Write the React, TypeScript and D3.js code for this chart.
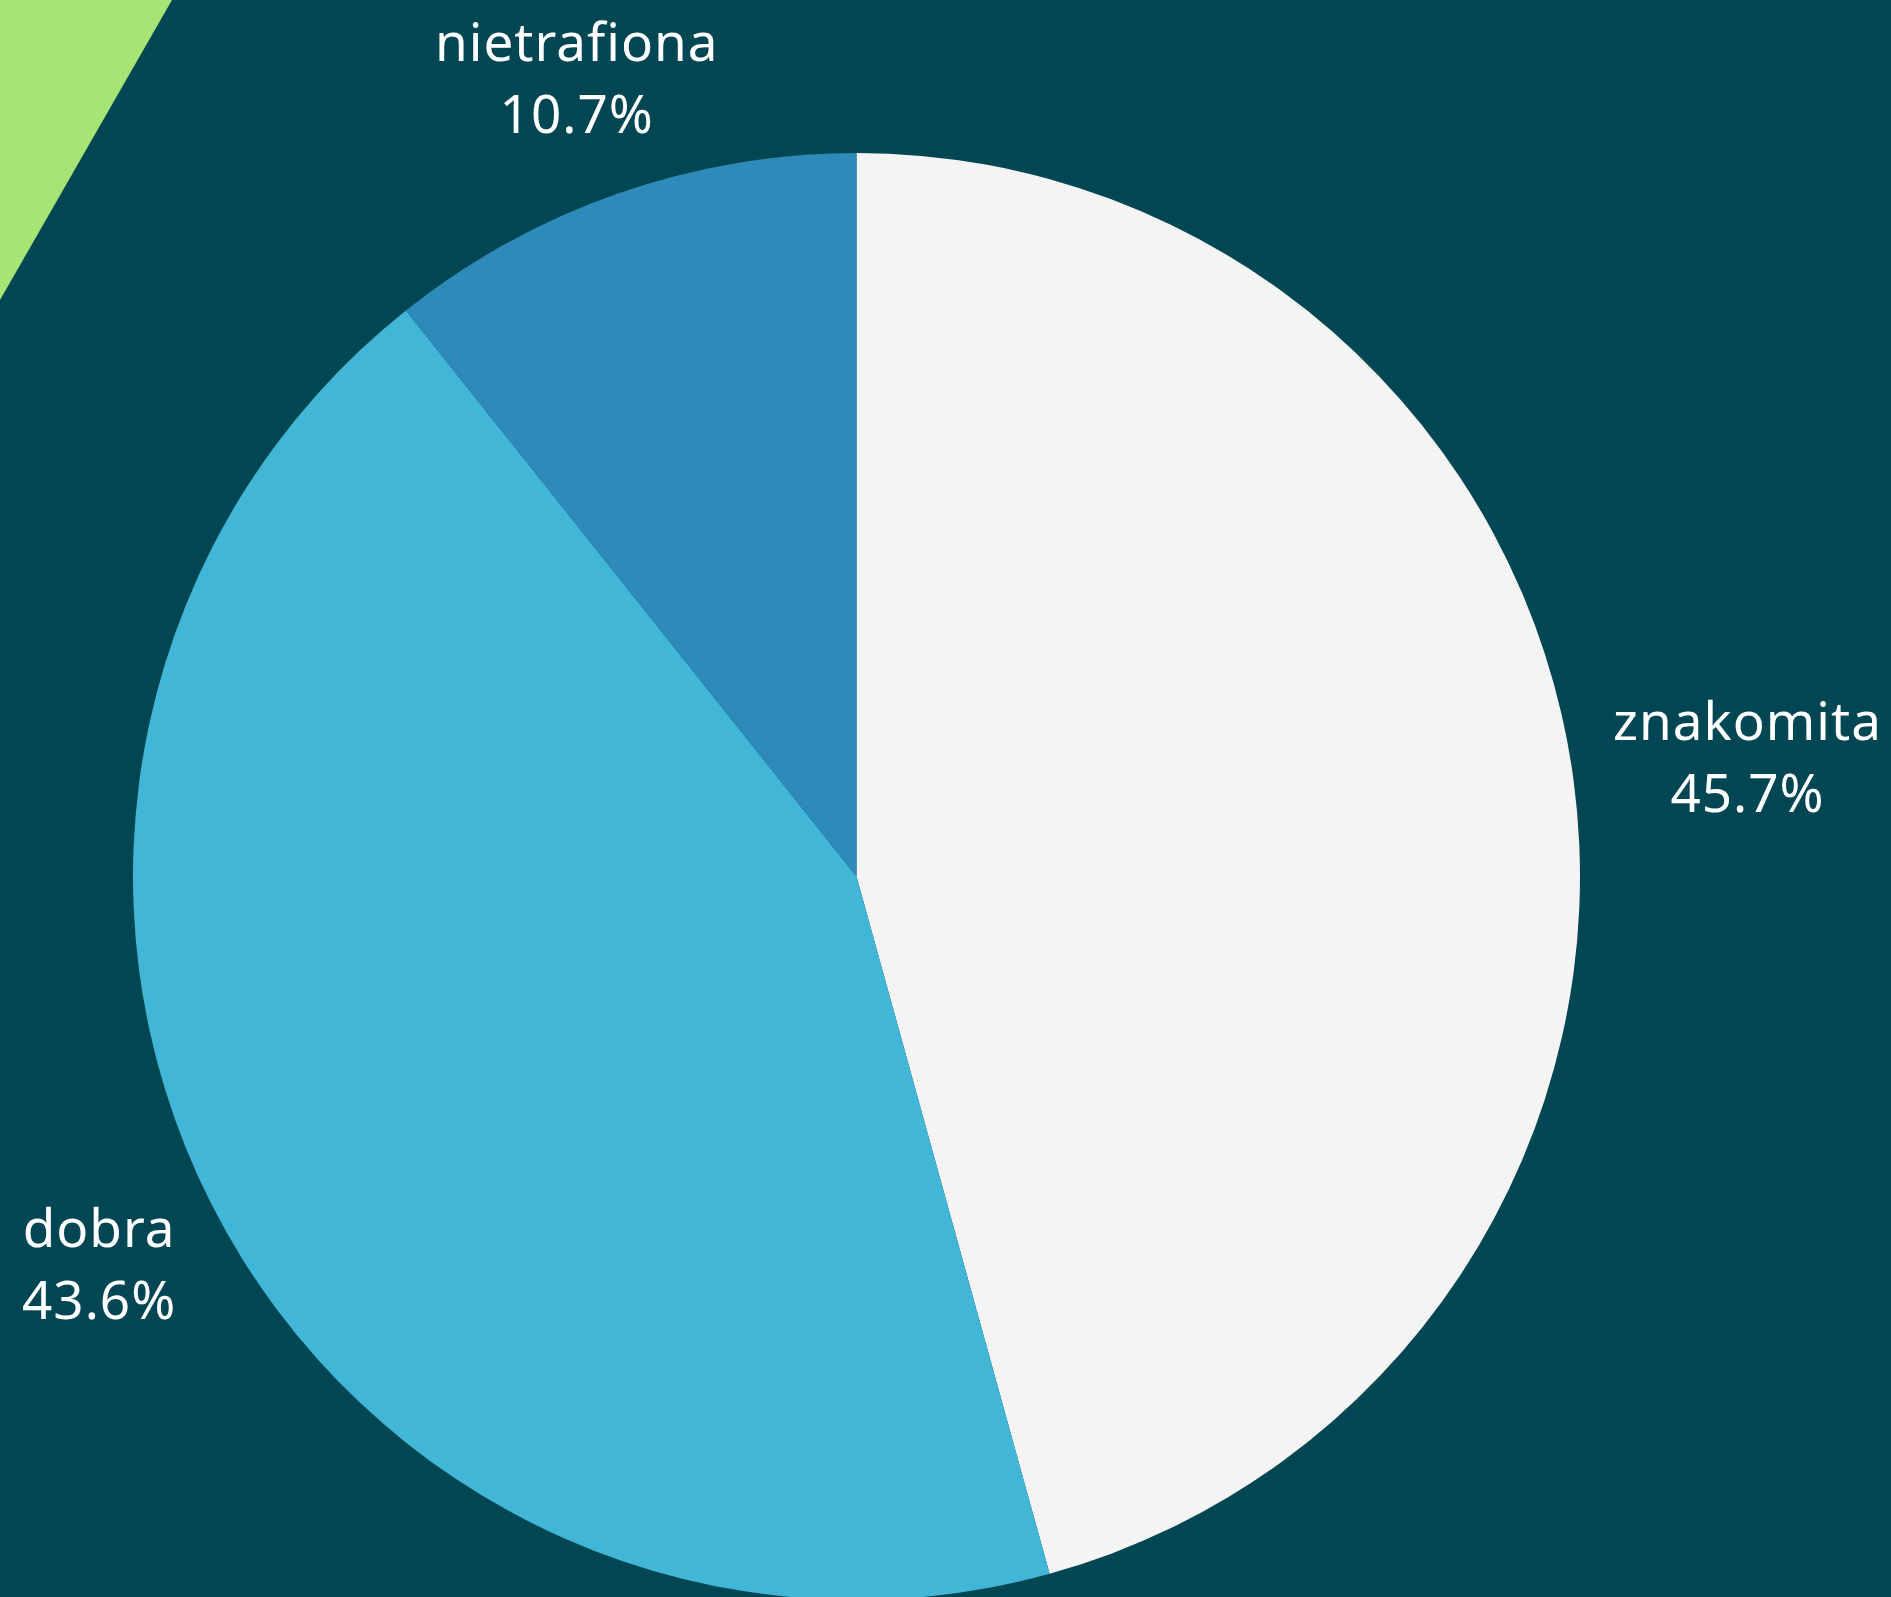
import React, { useEffect, useRef } from "react";
import * as d3 from "d3";

// slice data, clockwise from 12 o'clock
const categories = ["znakomita", "dobra", "nietrafiona"];
const shares = [45.7, 43.6, 10.7];
const sliceColors = ["#f4f4f4", "#42b6d6", "#2e8bb9"];

interface Slice {
  name: string;
  value: number;
  color: string;
}

const W = 1891;
const H = 1597;

const PieChart: React.FC = () => {
  const svgRef = useRef<SVGSVGElement>(null);

  useEffect(() => {
    document.body.style.margin = "0";
    if (!svgRef.current) return;

    const svg = d3.select(svgRef.current);
    svg.selectAll("*").remove();

    svg.append("rect").attr("width", W).attr("height", H).attr("fill", "#014653");

    // decorative green corner
    svg
      .append("polygon")
      .attr("points", "0,0 172,0 0,300")
      .attr("fill", "#a6e473");

    const cx = 856.5;
    const cy = 876.5;
    const radius = 723.5;

    const data: Slice[] = categories.map((name, i) => ({
      name,
      value: shares[i],
      color: sliceColors[i],
    }));

    const pie = d3
      .pie<Slice>()
      .sort(null)
      .value((d) => d.value);

    const arc = d3
      .arc<d3.PieArcDatum<Slice>>()
      .innerRadius(0)
      .outerRadius(radius);

    const g = svg.append("g").attr("transform", `translate(${cx},${cy})`);
    const arcs = pie(data);

    g.selectAll("path")
      .data(arcs)
      .join("path")
      .attr("d", arc)
      .attr("fill", (d) => d.data.color);

    const fontSize = 53;
    const lineGap = 72;
    const capH = 38;
    const gap = 40; // space between pie edge and label box
    const halfH = 80;

    arcs.forEach((d) => {
      const mid = (d.startAngle + d.endAngle) / 2;
      const t = g
        .append("text")
        .attr("fill", "#ffffff")
        .attr("font-family", "'Noto Sans', 'Open Sans', sans-serif")
        .attr("font-size", fontSize)
        .attr("letter-spacing", 1)
        .attr("text-anchor", "middle");
      t.append("tspan").attr("x", 0).attr("y", 0).text(d.data.name);
      t.append("tspan").attr("x", 0).attr("y", lineGap).text(`${d.data.value.toFixed(1)}%`);

      const box = (t.node() as SVGTextElement).getBBox();
      const hw = box.width / 2;
      const s = Math.abs(Math.sin(mid));
      const c = Math.abs(Math.cos(mid));
      const push = Math.min(s > 1e-6 ? hw / s : Infinity, c > 1e-6 ? halfH / c : Infinity);
      const r = radius + gap + push;
      const px = Math.sin(mid) * r;
      const py = -Math.cos(mid) * r;
      const visualMid = (lineGap - capH) / 2;
      t.attr("transform", `translate(${px},${py - visualMid + 2})`);
    });
  }, []);

  return <svg ref={svgRef} width={W} height={H} style={{ display: "block" }}></svg>;
};

export default function App() {
  return <PieChart />;
}
